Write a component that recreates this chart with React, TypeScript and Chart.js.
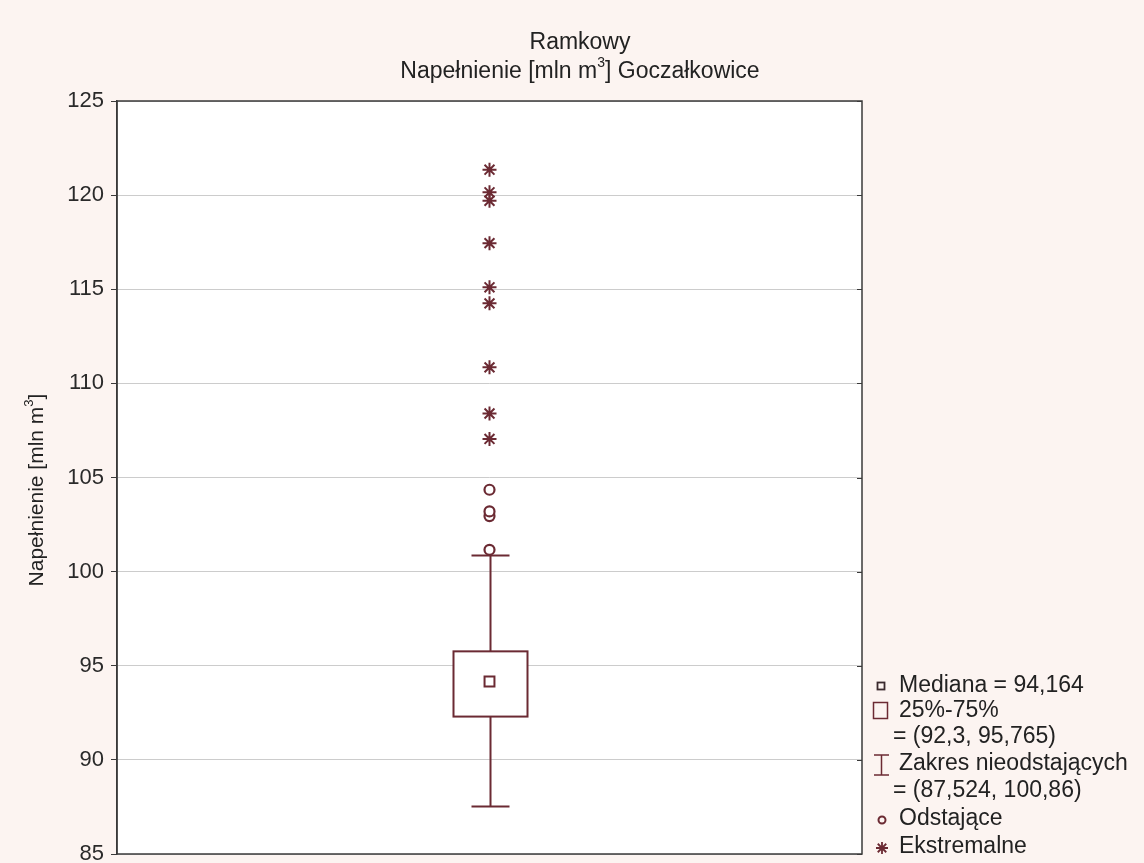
import React, { useEffect, useRef } from "react";
import { Chart, registerables } from "chart.js";

Chart.register(...registerables);

// ---- data ----
const TITLE_LINE_1 = "Ramkowy";
const TITLE_LINE_2 = ["Napełnienie [mln m", "3", "] Goczałkowice"];
const Y_LABEL = ["Napełnienie [mln m", "3", "]"];
const Y_MIN = 85;
const Y_MAX = 125;
const Y_STEP = 5;
const MEDIAN = 94.164;
const QUARTILES = [92.3, 95.765];
const WHISKERS = [87.524, 100.86];
const OUTLIERS = [101.16, 102.95, 103.2, 104.35];
const EXTREMES = [107.05, 108.4, 110.85, 114.25, 115.1, 117.45, 119.7, 120.15, 121.35];
const LEGEND_LABELS = ["Mediana", "25%-75%", "Zakres nieodstających", "Odstające", "Ekstremalne"];

// ---- style ----
const BOX_X = 0.5;
const MAROON = "#6b2a33";
const FONT = "'Liberation Sans', Arial, sans-serif";
const PAGE_BG = "#fcf4f1";
const fmt = (v: number) => String(v).replace(".", ",");

function drawSegments(ctx: CanvasRenderingContext2D, segs: string[], size: number, cx: number, cy: number) {
  const main = `${size}px ${FONT}`;
  const sup = `${Math.round(size * 0.6)}px ${FONT}`;
  let total = 0;
  segs.forEach((s, i) => {
    ctx.font = i % 2 === 1 ? sup : main;
    total += ctx.measureText(s).width;
  });
  let x = cx - total / 2;
  ctx.textAlign = "left";
  ctx.textBaseline = "middle";
  segs.forEach((s, i) => {
    const isSup = i % 2 === 1;
    ctx.font = isSup ? sup : main;
    ctx.fillText(s, x, isSup ? cy - size * 0.38 : cy);
    x += ctx.measureText(s).width;
  });
}

const decorPlugin = {
  id: "decor",
  beforeDraw(chart: any) {
    const { ctx, chartArea: a, width, height } = chart;
    ctx.save();
    ctx.fillStyle = PAGE_BG;
    ctx.fillRect(0, 0, width, height);
    ctx.fillStyle = "#ffffff";
    ctx.fillRect(a.left, a.top, a.right - a.left, a.bottom - a.top);
    ctx.restore();
  },
  beforeDatasetsDraw(chart: any) {
    const { ctx } = chart;
    const xs = chart.scales.x;
    const ys = chart.scales.y;
    const cx = Math.round(xs.getPixelForValue(BOX_X)) + 0.5;
    const boxHalf = 37;
    const capHalf = 19;
    const q1 = ys.getPixelForValue(QUARTILES[0]);
    const q3 = ys.getPixelForValue(QUARTILES[1]);
    const lo = ys.getPixelForValue(WHISKERS[0]);
    const hi = ys.getPixelForValue(WHISKERS[1]);
    ctx.save();
    ctx.strokeStyle = MAROON;
    ctx.lineWidth = 2;
    ctx.beginPath();
    ctx.moveTo(cx, q3);
    ctx.lineTo(cx, hi);
    ctx.moveTo(cx - capHalf, hi);
    ctx.lineTo(cx + capHalf, hi);
    ctx.moveTo(cx, q1);
    ctx.lineTo(cx, lo);
    ctx.moveTo(cx - capHalf, lo);
    ctx.lineTo(cx + capHalf, lo);
    ctx.stroke();
    ctx.fillStyle = "#ffffff";
    ctx.fillRect(cx - boxHalf, q3, boxHalf * 2, q1 - q3);
    ctx.strokeRect(cx - boxHalf, q3, boxHalf * 2, q1 - q3);
    ctx.restore();
  },
  afterDraw(chart: any) {
    const { ctx, chartArea: a } = chart;
    const ys = chart.scales.y;
    ctx.save();
    // frame
    ctx.strokeStyle = "#3a3a3a";
    ctx.lineWidth = 1.5;
    ctx.strokeRect(a.left, a.top, a.right - a.left, a.bottom - a.top);
    // inner ticks on right side
    ctx.beginPath();
    ys.ticks.forEach((t: any) => {
      const y = Math.round(ys.getPixelForValue(t.value)) + 0.5;
      ctx.moveTo(a.right - 5, y);
      ctx.lineTo(a.right, y);
    });
    ctx.lineWidth = 1;
    ctx.stroke();

    // title
    ctx.fillStyle = "#222222";
    ctx.font = `23px ${FONT}`;
    ctx.textAlign = "center";
    ctx.textBaseline = "middle";
    ctx.fillText(TITLE_LINE_1, 580, 43);
    drawSegments(ctx, TITLE_LINE_2, 23, 580, 72);

    // y label
    ctx.save();
    ctx.translate(37, 490);
    ctx.rotate(-Math.PI / 2);
    drawSegments(ctx, Y_LABEL, 21, 0, 0);
    ctx.restore();

    // legend
    const tx = 899;
    const ex = 893;
    const sx = 881;
    ctx.font = `23px ${FONT}`;
    ctx.textAlign = "left";
    ctx.textBaseline = "middle";
    ctx.fillStyle = "#222222";
    const rows: [number, number, string][] = [
      [tx, 686, `${LEGEND_LABELS[0]} = ${fmt(MEDIAN)}`],
      [tx, 711, LEGEND_LABELS[1]],
      [ex, 737, `= (${fmt(QUARTILES[0])}, ${fmt(QUARTILES[1])})`],
      [tx, 764, LEGEND_LABELS[2]],
      [ex, 791, `= (${fmt(WHISKERS[0])}, ${fmt(WHISKERS[1])})`],
      [tx, 819, LEGEND_LABELS[3]],
      [tx, 847, LEGEND_LABELS[4]],
    ];
    rows.forEach(([x, y, t]) => ctx.fillText(t, x, y));

    ctx.lineWidth = 1.8;
    // median symbol
    ctx.strokeStyle = "#3a2a2e";
    ctx.strokeRect(sx - 3.5, 686 - 3.5, 7, 7);
    // box symbol
    ctx.strokeStyle = MAROON;
    ctx.lineWidth = 1.5;
    ctx.strokeRect(873.5, 702.5, 14, 16);
    // whisker symbol
    ctx.beginPath();
    ctx.moveTo(sx - 7, 755);
    ctx.lineTo(sx + 8, 755);
    ctx.moveTo(sx + 0.5, 755);
    ctx.lineTo(sx + 0.5, 775);
    ctx.moveTo(sx - 7, 775);
    ctx.lineTo(sx + 8, 775);
    ctx.stroke();
    // circle
    ctx.lineWidth = 2;
    ctx.beginPath();
    ctx.arc(sx + 1, 820, 3.5, 0, Math.PI * 2);
    ctx.stroke();
    // star
    ctx.lineWidth = 1.8;
    ctx.beginPath();
    const r = 6;
    for (let k = 0; k < 4; k++) {
      const ang = (k * Math.PI) / 4;
      ctx.moveTo(sx + 1 - Math.cos(ang) * r, 848 - Math.sin(ang) * r);
      ctx.lineTo(sx + 1 + Math.cos(ang) * r, 848 + Math.sin(ang) * r);
    }
    ctx.stroke();
    ctx.restore();
  },
};

export default function App() {
  const ref = useRef<HTMLCanvasElement>(null);
  useEffect(() => {
    document.body.style.margin = "0";
    document.body.style.overflow = "hidden";
    document.body.style.background = PAGE_BG;
    const canvas = ref.current;
    if (!canvas) return;
    const chart = new Chart(canvas, {
      type: "scatter",
      data: {
        datasets: [
          {
            label: LEGEND_LABELS[3],
            data: OUTLIERS.map((v) => ({ x: BOX_X, y: v })),
            pointStyle: "circle",
            radius: 5,
            borderWidth: 2.2,
            borderColor: MAROON,
            backgroundColor: "#ffffff",
          },
          {
            label: LEGEND_LABELS[4],
            data: EXTREMES.map((v) => ({ x: BOX_X, y: v })),
            pointStyle: "star",
            radius: 7,
            borderWidth: 2,
            borderColor: MAROON,
            backgroundColor: MAROON,
          },
          {
            label: LEGEND_LABELS[0],
            data: [{ x: BOX_X, y: MEDIAN }],
            pointStyle: "rect",
            radius: 7,
            borderWidth: 2,
            borderColor: MAROON,
            backgroundColor: "#ffffff",
          },
        ],
      },
      options: {
        animation: false,
        responsive: false,
        devicePixelRatio: 1,
        layout: { padding: { left: 0, right: 282, top: 101, bottom: 7 } },
        plugins: {
          legend: { display: false },
          title: { display: false },
          tooltip: { enabled: false },
        },
        scales: {
          x: { type: "linear", min: 0, max: 1, display: false },
          y: {
            type: "linear",
            min: Y_MIN,
            max: Y_MAX,
            ticks: {
              stepSize: Y_STEP,
              color: "#2a2a2a",
              padding: 7,
              font: { family: FONT, size: 22 },
            },
            grid: {
              color: "#cccccc",
              lineWidth: 1,
              tickLength: 6,
              tickColor: "#3a3a3a",
            },
            border: { color: "#3a3a3a", width: 1.5 },
            afterFit: (s: any) => {
              s.width = 117;
              s.paddingTop = 0;
              s.paddingBottom = 0;
            },
          },
        },
      },
      plugins: [decorPlugin],
    });
    return () => chart.destroy();
  }, []);
  return <canvas ref={ref} width={1144} height={863} style={{ display: "block" }} />;
}
